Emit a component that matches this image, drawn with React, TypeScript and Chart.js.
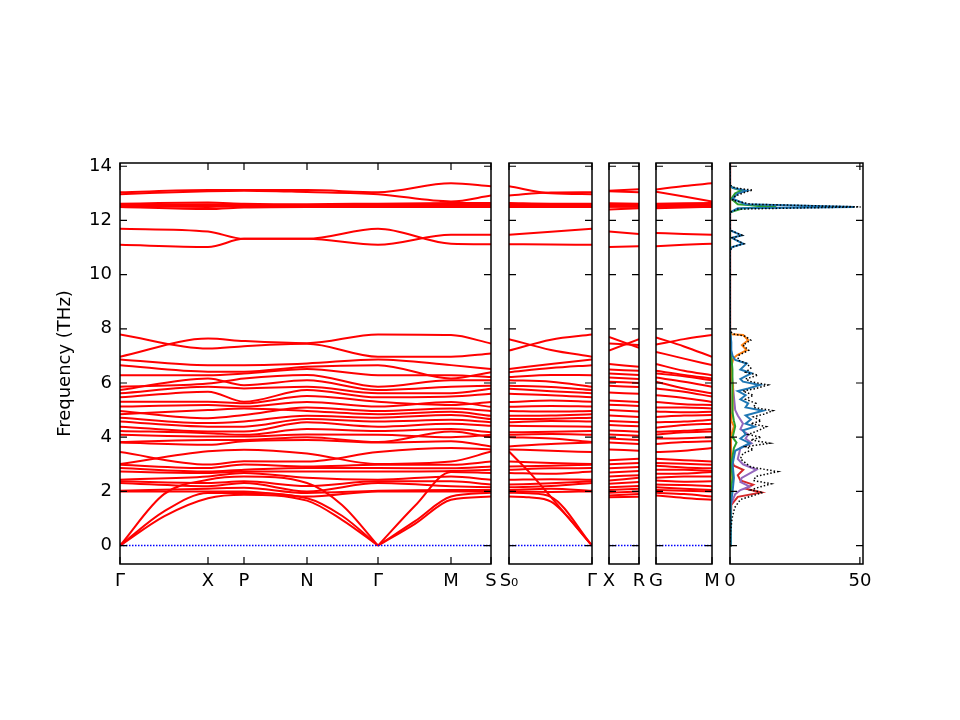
import React, { useEffect, useRef } from 'react';
import { Chart, registerables } from 'chart.js';

Chart.register(...registerables);

// frequency axis shared by every panel
const freqMin = -0.68;
const freqMax = 14.12;
const freqTicks = [0, 2, 4, 6, 8, 10, 12, 14];

// ---- panel 1 : Γ - X - P - N - Γ - M - S (optical bands 1..30 low, 31..39 high) ----
const p1Ticks = [0, 88, 124, 187, 258, 331, 371];
const p1Labels = ['Γ', 'X', 'P', 'N', 'Γ', 'M', 'S'];
const p1Gamma = [2.0, 2.02, 2.31, 2.37, 2.43, 2.73, 2.86, 2.98, 3.01, 3.45, 3.8, 3.82, 4.09, 4.23, 4.39, 4.58, 4.72, 4.85, 4.97, 5.13, 5.31, 5.47, 5.62, 5.74, 5.86, 6.29, 6.66, 6.87, 7.79, 6.97,
  11.1, 11.69, 12.5, 12.53, 12.55, 12.57, 12.62, 12.97, 13.04];
const p1X = [2.0, 2.1, 2.19, 2.31, 2.55, 2.68, 2.73, 2.86, 3.48, 2.99, 3.72, 3.9, 4.03, 4.15, 4.21, 4.39, 4.52, 5.0, 4.7, 5.19, 5.31, 5.68, 5.86, 6.17, 5.98, 6.29, 6.42, 6.66, 7.27, 7.64,
  11.02, 11.59, 12.42, 12.5, 12.55, 12.6, 12.66, 13.08, 13.12];
const p1P = [2.0, 2.13, 2.31, 2.37, 2.68, 2.73, 2.8, 2.99, 3.54, 3.11, 3.85, 3.9, 4.03, 4.09, 4.21, 4.39, 4.58, 5.06, 4.82, 5.13, 5.25, 5.31, 5.8, 5.92, 6.17, 6.35, 6.42, 6.66, 7.36, 7.55,
  11.32, 11.32, 12.48, 12.52, 12.55, 12.58, 12.62, 13.1, 13.12];
const p1N = [1.81, 1.94, 2.0, 2.2, 2.5, 2.73, 2.86, 2.92, 3.4, 3.1, 3.9, 4.0, 4.1, 4.3, 4.55, 4.67, 4.79, 4.97, 5.1, 5.3, 5.52, 5.74, 5.86, 6.1, 6.3, 6.52, 6.6, 6.72, 7.45, 7.47,
  11.32, 11.32, 12.5, 12.53, 12.55, 12.57, 12.6, 13.05, 13.12];
const p1Gamma2 = [2.0, 2.02, 2.31, 2.37, 2.43, 2.73, 2.86, 2.98, 3.01, 3.45, 3.8, 3.82, 4.09, 4.23, 4.39, 4.58, 4.72, 4.85, 4.97, 5.13, 5.31, 5.47, 5.62, 5.74, 5.86, 6.29, 6.66, 6.87, 6.97, 7.79,
  11.1, 11.69, 12.5, 12.53, 12.55, 12.57, 12.62, 12.97, 13.04];
const p1M = [2.0, 2.05, 2.19, 2.37, 2.55, 2.75, 2.85, 2.98, 3.1, 3.6, 3.85, 4.21, 4.0, 4.3, 4.5, 4.64, 4.82, 4.94, 5.06, 5.3, 5.19, 5.5, 5.62, 5.86, 6.1, 6.29, 6.17, 6.66, 6.97, 7.77,
  11.47, 11.14, 12.5, 12.53, 12.56, 12.6, 12.64, 12.7, 13.37];
const p1S = [2.0, 2.05, 2.15, 2.25, 2.43, 2.8, 2.92, 3.1, 3.47, 3.55, 3.66, 4.0, 4.09, 4.18, 4.42, 4.55, 4.67, 4.79, 4.97, 5.12, 5.3, 5.6, 5.79, 5.9, 6.1, 6.22, 6.4, 6.52, 7.09, 7.46,
  11.47, 11.12, 12.5, 12.53, 12.56, 12.6, 12.64, 12.92, 13.26];
// acoustic branches, split at the middle Γ so they meet it with a kink
const p1AcLeftX = [0, 44, 88, 124, 187, 222, 258];
const p1Ac1Left = [0, 1.08, 1.75, 1.88, 1.66, 0.95, 0];
const p1Ac2Left = [0, 1.26, 1.94, 1.94, 1.75, 1.1, 0];
const p1Ac3Left = [0, 1.9, 2.43, 2.55, 2.31, 1.5, 0];
const p1AcRightX = [258, 295, 331, 371];
const p1Ac1Right = [0, 0.8, 1.69, 1.81];
const p1Ac2Right = [0, 0.9, 1.81, 1.95];
const p1Ac3Right = [0, 1.47, 2.72, 2.68];

// ---- panel 2 : S0 - Γ ----
const p2Samples = [0, 42, 83];
const p2Ticks = [0, 83];
const p2Labels = ['S₀', 'Γ'];
const p2S0 = [2.0, 2.05, 2.15, 2.25, 2.43, 2.68, 2.8, 2.92, 3.1, 3.55, 3.66, 4.0, 4.09, 4.18, 4.42, 4.55, 4.67, 4.79, 4.97, 5.12, 5.3, 5.6, 5.79, 5.9, 6.1, 6.22, 6.4, 6.52, 7.2, 7.62,
  11.12, 11.47, 12.5, 12.53, 12.56, 12.6, 12.64, 13.26, 12.92];
const p2Mid = [1.98, 2.1, 2.2, 2.3, 2.45, 2.65, 2.85, 2.95, 3.05, 3.5, 3.75, 3.95, 4.12, 4.2, 4.4, 4.6, 4.68, 4.8, 4.95, 5.15, 5.35, 5.55, 5.7, 5.85, 6.05, 6.3, 6.55, 6.7, 7.6, 7.22,
  11.11, 11.58, 12.5, 12.52, 12.55, 12.58, 12.62, 13.0, 13.03];
const p2Gamma = [2.0, 2.02, 2.31, 2.37, 2.43, 2.73, 2.86, 2.98, 3.01, 3.45, 3.8, 3.82, 4.09, 4.23, 4.39, 4.58, 4.72, 4.85, 4.97, 5.13, 5.31, 5.47, 5.62, 5.74, 5.86, 6.29, 6.66, 6.87, 7.79, 6.97,
  11.1, 11.69, 12.5, 12.53, 12.55, 12.57, 12.62, 12.97, 13.04];
const p2AcX = [0, 20, 42, 83];
const p2Ac1 = [1.81, 1.78, 1.62, 0];
const p2Ac2 = [1.95, 1.93, 1.8, 0];
const p2Ac3 = [3.47, 2.72, 1.79, 0];

// ---- panel 3 : X - R ----
const p3Samples = [0, 30];
const p3Labels = ['X', 'R'];
const p3X = [1.78, 1.85, 1.95, 2.05, 2.15, 2.28, 2.4, 2.55, 2.7, 2.85, 3.0, 3.15, 3.55, 3.8, 3.95, 4.1, 4.25, 4.45, 4.6, 4.8, 5.0, 5.2, 5.35, 5.65, 5.9, 6.05, 6.2, 6.35, 6.5, 6.7, 7.2, 7.46, 7.7,
  11.02, 11.59, 12.4, 12.5, 12.55, 12.6, 12.63, 13.08, 13.1];
const p3R = [1.8, 1.9, 2.0, 2.1, 2.2, 2.35, 2.5, 2.6, 2.75, 2.9, 3.05, 3.2, 3.5, 3.75, 3.9, 4.05, 4.2, 4.4, 4.55, 4.75, 4.95, 5.15, 5.3, 5.6, 5.85, 6.0, 6.15, 6.3, 6.45, 6.6, 7.62, 7.4, 7.3,
  11.05, 11.5, 12.45, 12.5, 12.55, 12.58, 12.62, 13.04, 13.15];

// ---- panel 4 : G - M ----
const p4Samples = [0, 28, 56];
const p4Ticks = [0, 56];
const p4Labels = ['G', 'M'];
const p4G = [1.85, 1.95, 2.05, 2.15, 2.25, 2.4, 2.5, 2.65, 2.8, 2.95, 3.05, 3.2, 3.45, 3.75, 3.95, 4.1, 4.2, 4.35, 4.55, 4.75, 4.95, 5.1, 5.3, 5.55, 5.8, 6.05, 6.2, 6.35, 6.45, 6.7, 7.15, 7.42, 7.68,
  11.05, 11.54, 12.45, 12.5, 12.55, 12.58, 12.62, 13.06, 13.14];
const p4Mid = [1.76, 1.9, 2.02, 2.1, 2.24, 2.36, 2.55, 2.66, 2.8, 2.88, 3.02, 3.15, 3.5, 3.82, 3.96, 4.18, 4.24, 4.45, 4.58, 4.8, 4.92, 5.1, 5.22, 5.45, 5.68, 5.8, 6.05, 6.25, 6.3, 6.45, 6.9, 7.62, 7.35,
  11.1, 11.5, 12.48, 12.51, 12.55, 12.59, 12.63, 12.88, 13.27];
const p4M = [1.69, 1.81, 2.0, 2.05, 2.19, 2.37, 2.55, 2.72, 2.75, 2.85, 2.98, 3.1, 3.6, 3.85, 4.0, 4.21, 4.3, 4.5, 4.64, 4.82, 4.94, 5.06, 5.19, 5.3, 5.5, 5.62, 5.86, 6.1, 6.17, 6.29, 6.66, 7.77, 6.97,
  11.14, 11.47, 12.5, 12.53, 12.56, 12.6, 12.64, 12.7, 13.37];

// ---- panel 5 : density of states ----
const dosTicks = [0, 50];
const dosLabels = ['0', '50'];
const totalFreq = [0, 0.5, 1.0, 1.4, 1.7, 1.85, 1.96, 2.05, 2.15, 2.28, 2.4, 2.55, 2.73, 2.9, 3.05, 3.2, 3.4, 3.55, 3.65, 3.78, 3.9, 4.0, 4.1, 4.25, 4.39, 4.5, 4.6, 4.75, 4.85, 4.98,
  5.1, 5.25, 5.4, 5.55, 5.7, 5.8, 5.93, 6.05, 6.15, 6.29, 6.4, 6.55, 6.72, 6.85, 7.03, 7.21, 7.4, 7.58, 7.72, 7.82, 7.9, 8.0, 10.9, 11.02, 11.14, 11.36, 11.45, 11.63, 11.75, 12.3,
  12.42, 12.5, 12.6, 12.75, 12.9, 13.05, 13.12, 13.2, 13.3, 14.1];
const totalDos = [0, 0.2, 0.8, 1.8, 4, 9, 12.7, 8, 11, 15.9, 9, 10, 18.4, 8, 6, 4, 5, 9, 6, 15.3, 8, 12, 7, 11, 14, 8, 12, 9, 13, 16.5,
  9, 10, 6, 9, 5, 10, 14.6, 8, 6, 10.8, 6, 8, 6.5, 3, 3.5, 7.2, 5, 8, 6, 1, 0.3, 0, 0, 1, 5.3, 0.8, 4.7, 0.3, 0, 0,
  3, 50.3, 8, 1, 2, 6, 8.8, 2, 0, 0];
const blueFreq = [0, 1.5, 2.0, 2.5, 3.0, 3.5, 3.78, 3.95, 4.1, 4.25, 4.39, 4.5, 4.65, 4.8, 4.98, 5.1, 5.25, 5.4, 5.55, 5.7, 5.8, 5.93, 6.05, 6.15, 6.36,
  6.5, 6.72, 6.85, 7.0, 7.2, 7.5, 7.8, 8.0, 10.9, 11.02, 11.14, 11.36, 11.45, 11.63, 11.75, 12.3, 12.45, 12.5, 12.6, 12.8, 13.0, 13.1, 13.2, 13.3, 14.1];
const blueDos = [0, 0.3, 1, 1.5, 1, 2, 7.6, 4, 6, 5, 9.5, 6, 8, 6, 12.7, 6, 7, 4, 6, 3, 7, 11.5, 5, 4, 8.3,
  4, 6.4, 2, 1, 0.5, 0.5, 0.2, 0, 0, 0.8, 5.1, 0.6, 4.5, 0.3, 0, 0, 3, 48, 6, 1, 3, 6.4, 1, 0, 0];
const orangeFreq = [0, 4.0, 4.4, 4.6, 5.0, 5.5, 5.9, 6.2, 6.6, 6.91, 7.03, 7.21, 7.4, 7.58, 7.77, 7.8, 7.85, 8.0, 14.1];
const orangeDos = [0, 0.3, 1.5, 0.5, 1, 1, 1.2, 0.5, 0.5, 1.3, 2.8, 6.4, 4.6, 7.0, 5.1, 0.6, 0, 0, 0];
const greenFreq = [0, 2.0, 2.5, 3.0, 3.6, 3.8, 4.0, 4.4, 4.6, 4.9, 5.5, 6.0, 6.5, 7.0, 8.0, 12.3, 12.45, 12.5, 12.6, 12.8, 13.0, 13.1, 13.2, 13.3, 14.1];
const greenDos = [0, 0.3, 1, 0.5, 1.5, 2.5, 1, 2, 1.5, 1, 0.8, 1, 1, 0.5, 0, 0, 5, 17.8, 3, 0.5, 2, 4.4, 1, 0, 0];
const redFreq = [0, 1.5, 1.8, 1.96, 2.1, 2.25, 2.4, 2.6, 2.8, 2.95, 3.2, 4.0, 5.0, 6.0, 8.0, 14.1];
const redDos = [0, 0.5, 3, 12.1, 6, 8.9, 4, 3, 5.1, 1.5, 0.5, 0.3, 0.2, 0.1, 0, 0];
const purpleFreq = [0, 1.5, 1.9, 2.05, 2.18, 2.35, 2.5, 2.8, 3.0, 3.2, 3.4, 3.6, 3.78, 3.95, 4.1, 4.3, 4.5, 4.8, 5.0, 5.5, 6.0, 6.5, 7.0, 8.0, 14.1];
const purpleDos = [0, 0.3, 2, 4, 7.6, 4, 4.5, 10.2, 5, 3, 3.5, 4, 8.3, 6, 7, 4, 5, 3, 2, 1.5, 1, 0.5, 0.3, 0, 0];

const FONT = { family: 'DejaVu Sans', size: 18 };
const TICK_LEN = 7;
const CHART_TOP = 143; // canvas top; chart area starts 20px lower
const CANVAS_H = 461;

// inner tick marks on all four sides plus the box around the axes
const makeFramePlugin = (xTicks: number[]) => ({
  id: 'frame',
  afterDraw(chart: any) {
    const { ctx, chartArea: a, scales } = chart;
    ctx.save();
    ctx.strokeStyle = '#000';
    ctx.lineWidth = 1.2;
    ctx.beginPath();
    freqTicks.forEach((v) => {
      const py = scales.y.getPixelForValue(v);
      ctx.moveTo(a.left, py);
      ctx.lineTo(a.left + TICK_LEN, py);
      ctx.moveTo(a.right, py);
      ctx.lineTo(a.right - TICK_LEN, py);
    });
    xTicks.forEach((v) => {
      const px = scales.x.getPixelForValue(v);
      ctx.moveTo(px, a.top);
      ctx.lineTo(px, a.top + TICK_LEN);
      ctx.moveTo(px, a.bottom);
      ctx.lineTo(px, a.bottom - TICK_LEN);
    });
    ctx.stroke();
    ctx.lineWidth = 1.5;
    ctx.strokeRect(a.left, a.top, a.right - a.left, a.bottom - a.top);
    ctx.restore();
  },
});

const baseScales = (xMax: number, xTicks: number[], xLabels: string[], yAxis: boolean) => ({
  x: {
    type: 'linear',
    min: 0,
    max: xMax,
    afterBuildTicks: (s: any) => { s.ticks = xTicks.map((value) => ({ value })); },
    afterFit: (s: any) => { s.height = 40; },
    grid: { display: false, drawTicks: false },
    border: { display: false },
    ticks: { autoSkip: false, maxRotation: 0, padding: 7, color: '#000', font: FONT, callback: (_v: any, i: number) => xLabels[i] },
  },
  y: {
    type: 'linear',
    min: freqMin,
    max: freqMax,
    afterBuildTicks: (s: any) => { s.ticks = freqTicks.map((value) => ({ value })); },
    afterFit: (s: any) => { s.width = yAxis ? 69 : 0; },
    grid: { display: false, drawTicks: false },
    border: { display: false },
    ticks: { display: yAxis, padding: 8, color: '#000', font: FONT },
    title: { display: yAxis, text: 'Frequency (THz)', color: '#000', font: FONT, padding: 4 },
  },
});

const bandLine = (xs: number[], ys: number[]) => ({
  data: xs.map((x, j) => ({ x, y: ys[j] })),
  showLine: true,
  borderColor: '#ff0000',
  borderWidth: 2,
  pointRadius: 0,
  cubicInterpolationMode: 'monotone',
  fill: false,
});

const bandConfig = (
  xMax: number, xTicks: number[], xLabels: string[], samples: number[], columns: number[][],
  acoustic: [number[], number[]][], yAxis: boolean,
) => {
  const rows = columns[0].map((_, i) => bandLine(samples, columns.map((c) => c[i])));
  const acousticLines = acoustic.map(([xs, ys]) => bandLine(xs, ys));
  const zeroLine = {
    data: [{ x: 0, y: 0 }, { x: xMax, y: 0 }],
    showLine: true,
    borderColor: '#0000ff',
    backgroundColor: '#0000ff',
    borderWidth: 1.5,
    borderDash: [1.5, 1.5],
    pointRadius: 0,
  };
  return {
    type: 'scatter',
    data: { datasets: [zeroLine, ...acousticLines, ...rows] },
    options: {
      responsive: false,
      animation: false,
      events: [],
      layout: { padding: { left: yAxis ? 0 : 20, right: 20, top: 20, bottom: 0 } },
      plugins: { legend: { display: false }, tooltip: { enabled: false } },
      scales: baseScales(xMax, xTicks, xLabels, yAxis),
    },
    plugins: [makeFramePlugin(xTicks)],
  };
};

const dosLine = (freq: number[], dos: number[], color: string, width: number, dash: number[] = []) => ({
  data: freq.map((f, i) => ({ x: dos[i], y: f })),
  showLine: true,
  borderColor: color,
  borderWidth: width,
  borderDash: dash,
  pointRadius: 0,
  tension: 0,
});

const dosConfig = () => ({
  type: 'scatter',
  data: {
    datasets: [
      dosLine(totalFreq, totalDos, '#000000', 1.5, [1.5, 2]),
      dosLine(blueFreq, blueDos, '#1f77b4', 2),
      dosLine(greenFreq, greenDos, '#2ca02c', 2),
      dosLine(orangeFreq, orangeDos, '#ff7f0e', 2),
      dosLine(purpleFreq, purpleDos, '#9467bd', 2),
      dosLine(redFreq, redDos, '#d62728', 2),
    ],
  },
  options: {
    responsive: false,
    animation: false,
    events: [],
    layout: { padding: { left: 20, right: 20, top: 20, bottom: 0 } },
    plugins: { legend: { display: false }, tooltip: { enabled: false } },
    scales: baseScales(51.2, dosTicks, dosLabels, false),
  },
  plugins: [makeFramePlugin(dosTicks)],
});

const ChartPanel: React.FC<{ left: number; width: number; build: () => any }> = ({ left, width, build }) => {
  const ref = useRef<HTMLCanvasElement>(null);
  useEffect(() => {
    if (!ref.current) return;
    const chart = new Chart(ref.current, build());
    return () => chart.destroy();
  }, []);
  return (
    <canvas
      ref={ref}
      width={width}
      height={CANVAS_H}
      style={{ position: 'absolute', left, top: CHART_TOP, width, height: CANVAS_H }}
    />
  );
};

export default function App() {
  return (
    <div style={{ position: 'absolute', left: 0, top: 0, width: 960, height: 720, background: '#fff', overflow: 'hidden' }}>
      <ChartPanel
        left={51}
        width={460}
        build={() => bandConfig(371, p1Ticks, p1Labels, p1Ticks, [p1Gamma, p1X, p1P, p1N, p1Gamma2, p1M, p1S], [
          [p1AcLeftX, p1Ac1Left], [p1AcLeftX, p1Ac2Left], [p1AcLeftX, p1Ac3Left],
          [p1AcRightX, p1Ac1Right], [p1AcRightX, p1Ac2Right], [p1AcRightX, p1Ac3Right],
        ], true)}
      />
      <ChartPanel
        left={489}
        width={123}
        build={() => bandConfig(83, p2Ticks, p2Labels, p2Samples, [p2S0, p2Mid, p2Gamma], [
          [p2AcX, p2Ac1], [p2AcX, p2Ac2], [p2AcX, p2Ac3],
        ], false)}
      />
      <ChartPanel
        left={589}
        width={70}
        build={() => bandConfig(30, p3Samples, p3Labels, p3Samples, [p3X, p3R], [], false)}
      />
      <ChartPanel
        left={636}
        width={96}
        build={() => bandConfig(56, p4Ticks, p4Labels, p4Samples, [p4G, p4Mid, p4M], [], false)}
      />
      <ChartPanel left={710} width={173} build={dosConfig} />
    </div>
  );
}
